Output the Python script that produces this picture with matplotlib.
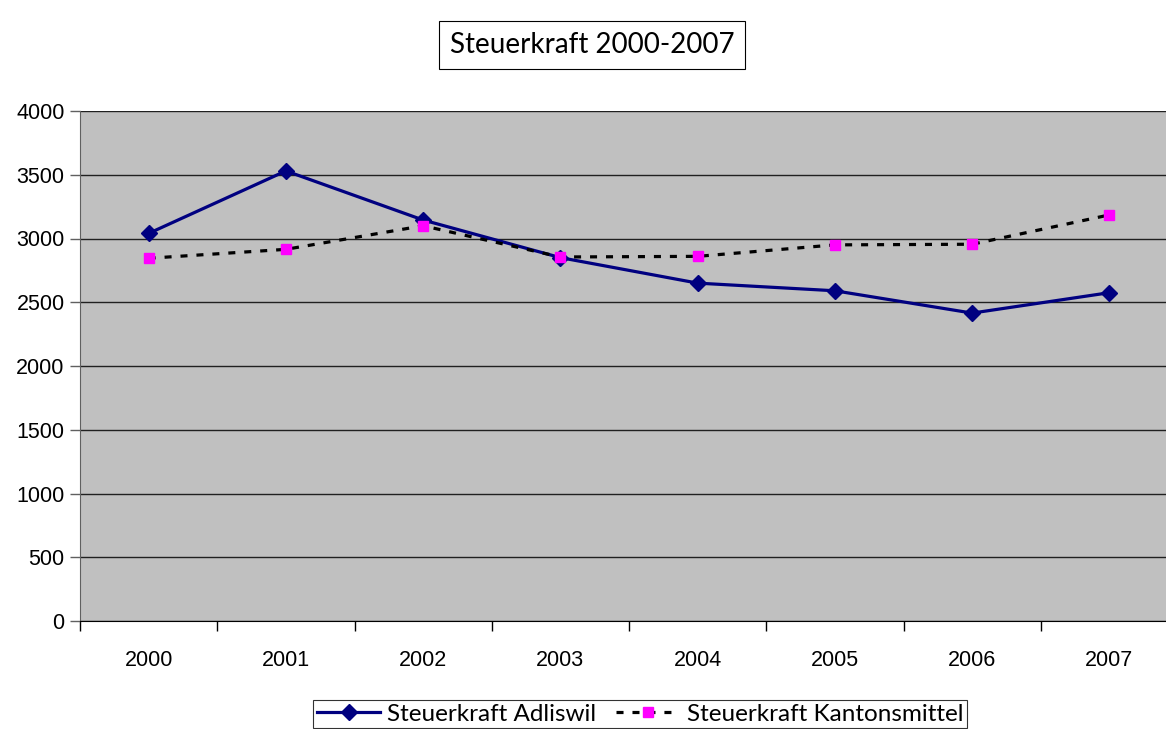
import matplotlib.pyplot as plt
import numpy as np

# data
years = ['2000', '2001', '2002', '2003', '2004', '2005', '2006', '2007']
adliswil = [3040, 3530, 3145, 2850, 2650, 2590, 2415, 2575]
kanton = [2845, 2915, 3100, 2855, 2860, 2950, 2955, 3185]
y_ticks = [0, 500, 1000, 1500, 2000, 2500, 3000, 3500, 4000]

fig = plt.figure(figsize=(11.66, 7.29), dpi=100)
ax = fig.add_axes([80 / 1166, 1 - 621 / 729, 1098 / 1166, 510 / 729])
ax.set_facecolor('#c0c0c0')

x = np.arange(len(years))
ax.plot(x, adliswil, color='#000080', lw=2.3, marker='D', ms=8,
        label='Steuerkraft Adliswil')
ax.plot(x, kanton, color='black', lw=2.3, ls=(0, (2.2, 2.8)), marker='s', ms=7,
        mfc='#ff00ff', mec='#ff00ff', label='Steuerkraft Kantonsmittel')

ax.set_xlim(-0.5, len(years) - 0.5)
ax.set_ylim(0, 4000)
ax.set_yticks(y_ticks)
ax.set_yticklabels([str(v) for v in y_ticks], fontsize=15.5, family='Liberation Sans')
ax.yaxis.grid(True, color='#202020', lw=1)
ax.set_axisbelow(True)

ax.set_xticks(x)
ax.set_xticklabels(years, fontsize=15.5, family='Liberation Sans')
ax.set_xticks(np.arange(len(years)) - 0.5, minor=True)
ax.tick_params(axis='x', which='major', length=0, pad=21)
ax.tick_params(axis='x', which='minor', length=7, width=1, color='black', direction='out')
ax.tick_params(axis='y', length=7, width=1, color='#606060', direction='out', pad=4)

for s in ['top', 'right']:
    ax.spines[s].set_visible(False)
ax.spines['left'].set_color('#606060')
ax.spines['bottom'].set_color('black')

fig.text(592 / 1166, 1 - 45 / 729, 'Steuerkraft 2000-2007', fontsize=20,
         family='Lato', ha='center', va='center',
         bbox=dict(boxstyle='square,pad=0.4', fc='white', ec='black', lw=0.8))

leg = fig.legend(loc='upper center', bbox_to_anchor=(640 / 1166, 1 - 688 / 729),
                 ncol=2, frameon=True, fancybox=False,
                 handlelength=2.6, columnspacing=0.8, handletextpad=0.3,
                 borderpad=0.15, prop={'family': 'Lato', 'size': 17.5})
leg.get_frame().set_edgecolor('black')
leg.get_frame().set_linewidth(0.8)

fig.savefig('out.png', dpi=100)
